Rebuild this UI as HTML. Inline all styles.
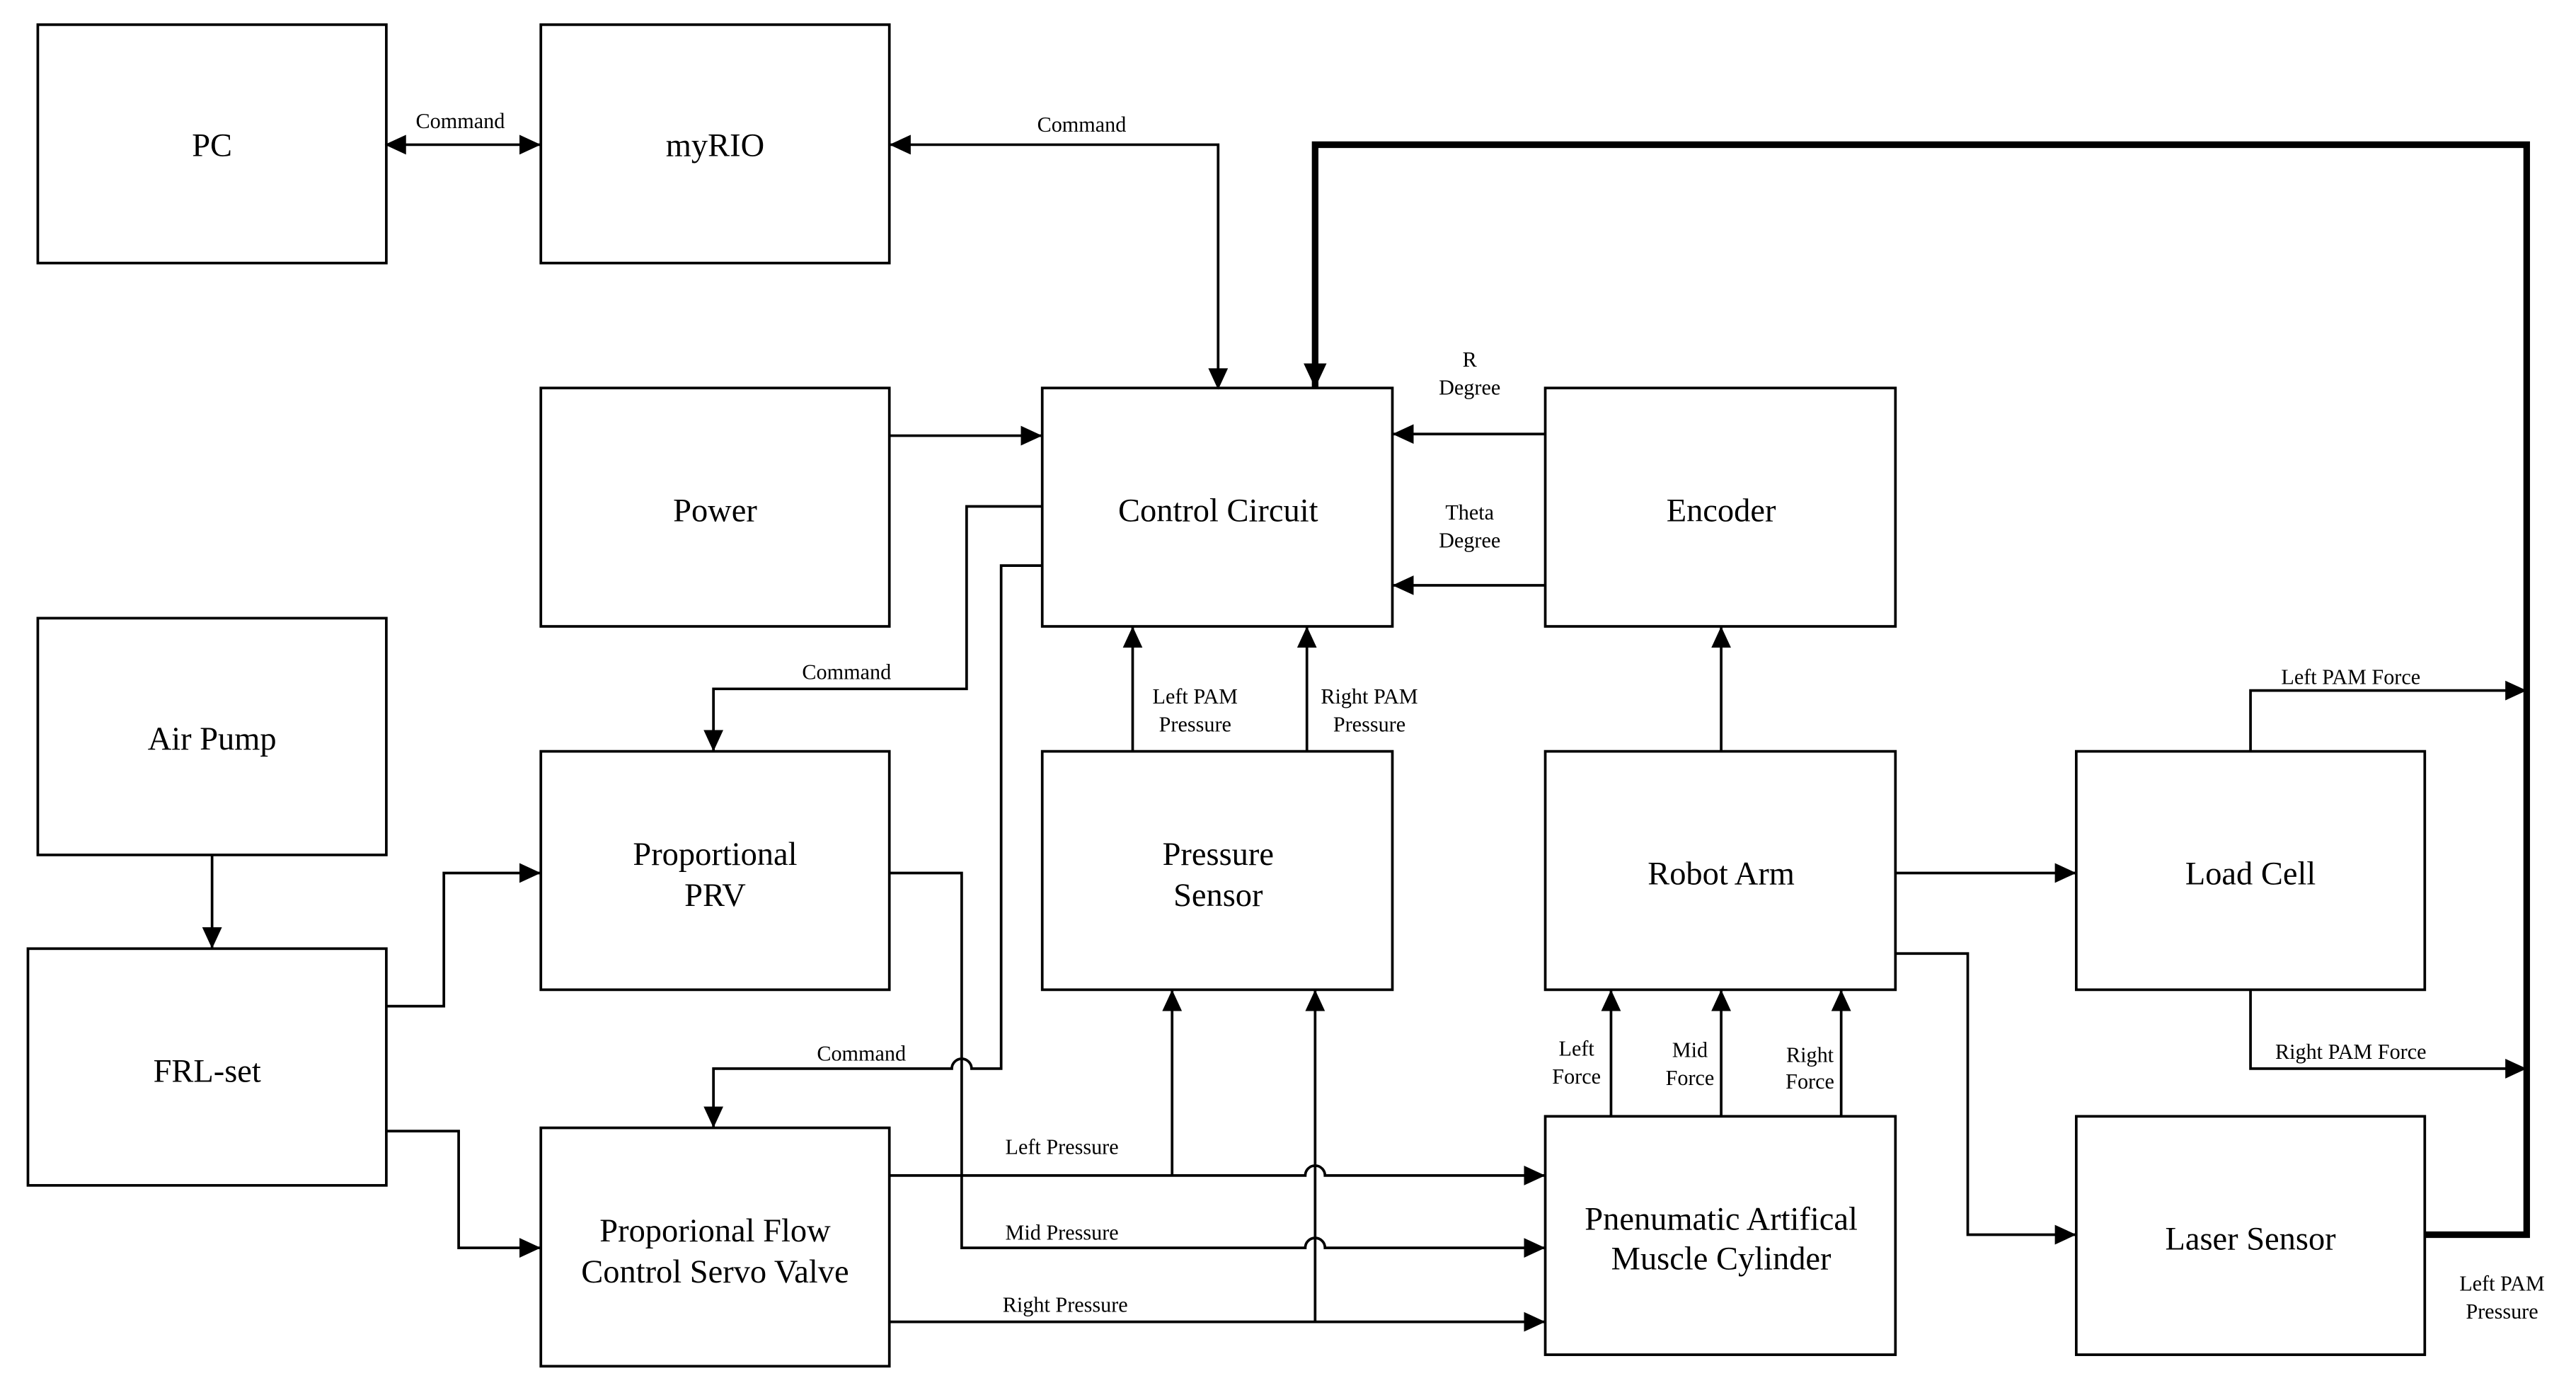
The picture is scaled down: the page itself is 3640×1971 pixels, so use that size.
<!DOCTYPE html>
<html><head><meta charset="utf-8"><style>
html,body{margin:0;padding:0;background:#fff;}
svg{display:block;}
text{font-family:"Liberation Serif",serif;fill:#000;}
.b{font-size:20px;}
.s{font-size:13px;}
</style></head><body>
<svg width="3640" height="1971" viewBox="0 0 1567 848.5" xmlns="http://www.w3.org/2000/svg">
<defs>
<marker id="a" markerUnits="userSpaceOnUse" markerWidth="14" markerHeight="12" refX="13" refY="6" orient="auto">
<path d="M0,0 L13,6 L0,12 Z" fill="#000"/></marker>
<marker id="as" markerUnits="userSpaceOnUse" markerWidth="14" markerHeight="12" refX="1" refY="6" orient="auto">
<path d="M13,0 L0,6 L13,12 Z" fill="#000"/></marker>
<marker id="at" markerUnits="userSpaceOnUse" markerWidth="16" markerHeight="14" refX="15" refY="7" orient="auto">
<path d="M0,0 L15,7 L0,14 Z" fill="#000"/></marker>
</defs>
<g fill="none" stroke="#000" stroke-width="1.6">
<rect x="23" y="15" width="212" height="145"/>
<rect x="329" y="15" width="212" height="145"/>
<rect x="329" y="236" width="212" height="145"/>
<rect x="634" y="236" width="213" height="145"/>
<rect x="940" y="236" width="213" height="145"/>
<rect x="23" y="376" width="212" height="144"/>
<rect x="329" y="457" width="212" height="145"/>
<rect x="634" y="457" width="213" height="145"/>
<rect x="940" y="457" width="213" height="145"/>
<rect x="1263" y="457" width="212" height="145"/>
<rect x="17" y="577" width="218" height="144"/>
<rect x="329" y="686" width="212" height="145"/>
<rect x="940" y="679" width="213" height="145"/>
<rect x="1263" y="679" width="212" height="145"/>
</g>
<g fill="none" stroke="#000" stroke-width="1.6">
<path d="M235,88 L329,88" marker-start="url(#as)" marker-end="url(#a)"/>
<path d="M741,236 L741,88 L541,88" marker-start="url(#as)" marker-end="url(#a)"/>
<path d="M940,264 L847,264" marker-end="url(#a)"/>
<path d="M940,356 L847,356" marker-end="url(#a)"/>
<path d="M541,265 L634,265" marker-end="url(#a)"/>
<path d="M634,308 L588,308 L588,419 L434,419 L434,457" marker-end="url(#a)"/>
<path d="M634,344 L609,344 L609,650 L591,650 A6,6 0 0 0 579,650 L434,650 L434,686" marker-end="url(#a)"/>
<path d="M689,457 L689,381" marker-end="url(#a)"/>
<path d="M795,457 L795,381" marker-end="url(#a)"/>
<path d="M1047,457 L1047,381" marker-end="url(#a)"/>
<path d="M1153,531 L1263,531" marker-end="url(#a)"/>
<path d="M1153,580 L1197,580 L1197,751 L1263,751" marker-end="url(#a)"/>
<path d="M1369,457 L1369,420 L1537,420" marker-end="url(#a)"/>
<path d="M1369,602 L1369,650 L1537,650" marker-end="url(#a)"/>
<path d="M129,520 L129,577" marker-end="url(#a)"/>
<path d="M235,612 L270,612 L270,531 L329,531" marker-end="url(#a)"/>
<path d="M235,688 L279,688 L279,759 L329,759" marker-end="url(#a)"/>
<path d="M541,531 L585,531 L585,759 L794,759 A6,6 0 0 1 806,759 L940,759" marker-end="url(#a)"/>
<path d="M541,715 L794,715 A6,6 0 0 1 806,715 L940,715" marker-end="url(#a)"/>
<path d="M541,804 L940,804" marker-end="url(#a)"/>
<path d="M713,715 L713,602" marker-end="url(#a)"/>
<path d="M800,804 L800,602" marker-end="url(#a)"/>
<path d="M980,679 L980,602" marker-end="url(#a)"/>
<path d="M1047,679 L1047,602" marker-end="url(#a)"/>
<path d="M1120,679 L1120,602" marker-end="url(#a)"/>
<path d="M1475,751 L1537,751 L1537,88 L800,88 L800,236" stroke-width="4" marker-end="url(#at)"/>
</g>
<g text-anchor="middle" class="b">
<text x="129" y="95">PC</text>
<text x="435" y="95">myRIO</text>
<text x="435" y="317">Power</text>
<text x="741" y="317">Control Circuit</text>
<text x="1047" y="317">Encoder</text>
<text x="129" y="456">Air Pump</text>
<text x="435" y="526">Proportional</text>
<text x="435" y="551">PRV</text>
<text x="741" y="526">Pressure</text>
<text x="741" y="551">Sensor</text>
<text x="1047" y="538">Robot Arm</text>
<text x="1369" y="538">Load Cell</text>
<text x="126" y="658">FRL-set</text>
<text x="435" y="755">Proporional Flow</text>
<text x="435" y="780">Control Servo Valve</text>
<text x="1047" y="748">Pnenumatic Artifical</text>
<text x="1047" y="772">Muscle Cylinder</text>
<text x="1369" y="760">Laser Sensor</text>
</g>
<g text-anchor="middle" class="s">
<text x="280" y="78">Command</text>
<text x="658" y="80">Command</text>
<text x="894" y="223">R</text>
<text x="894" y="240">Degree</text>
<text x="894" y="316">Theta</text>
<text x="894" y="333">Degree</text>
<text x="515" y="413">Command</text>
<text x="524" y="645">Command</text>
<text x="727" y="428">Left PAM</text>
<text x="727" y="445">Pressure</text>
<text x="833" y="428">Right PAM</text>
<text x="833" y="445">Pressure</text>
<text x="1430" y="416">Left PAM Force</text>
<text x="1430" y="644">Right PAM Force</text>
<text x="1522" y="785">Left PAM</text>
<text x="1522" y="802">Pressure</text>
<text x="646" y="702">Left Pressure</text>
<text x="646" y="754">Mid Pressure</text>
<text x="648" y="798">Right Pressure</text>
<text x="959" y="642">Left</text>
<text x="959" y="659">Force</text>
<text x="1028" y="643">Mid</text>
<text x="1028" y="660">Force</text>
<text x="1101" y="646">Right</text>
<text x="1101" y="662">Force</text>
</g>
</svg>
</body></html>
